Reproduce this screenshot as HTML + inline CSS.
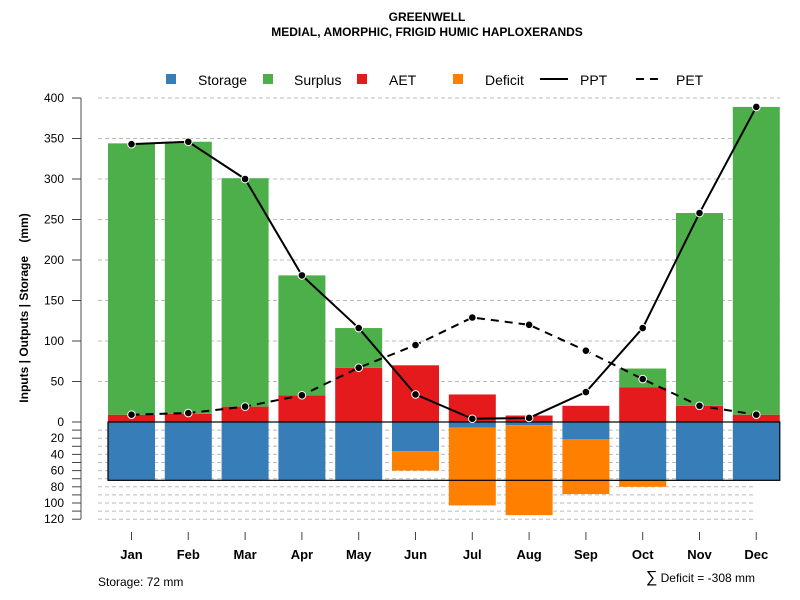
<!DOCTYPE html>
<html><head><meta charset="utf-8"><style>
body{margin:0;background:#fff;}
svg{display:block;font-family:"Liberation Sans",sans-serif;}
</style></head><body>
<svg id="chart" width="800" height="600">
<text x="427" y="21" text-anchor="middle" font-size="12" font-weight="bold">GREENWELL</text>
<text x="427" y="36" text-anchor="middle" font-size="12" font-weight="bold">MEDIAL, AMORPHIC, FRIGID HUMIC HAPLOXERANDS</text>
<g id="legend">
 <rect x="166" y="74" width="10" height="10" fill="#377eb8"/>
 <text x="198" y="85" font-size="14">Storage</text>
 <rect x="263" y="74" width="10" height="10" fill="#4daf4a"/>
 <text x="294" y="85" font-size="14">Surplus</text>
 <rect x="357" y="74" width="10" height="10" fill="#e41a1c"/>
 <text x="389" y="85" font-size="14">AET</text>
 <rect x="453" y="74" width="10" height="10" fill="#ff7f00"/>
 <text x="485" y="85" font-size="14">Deficit</text>
 <line x1="540" y1="79" x2="568" y2="79" stroke="#000" stroke-width="2"/>
 <text x="580" y="85" font-size="14">PPT</text>
 <line x1="636" y1="79" x2="664" y2="79" stroke="#000" stroke-width="2" stroke-dasharray="8,6"/>
 <text x="676" y="85" font-size="14">PET</text>
</g>
<text transform="translate(28,308) rotate(-90)" text-anchor="middle" font-size="12" font-weight="bold" style="white-space:pre">Inputs | Outputs | Storage    (mm)</text>
<text x="98" y="586" font-size="12">Storage: 72 mm</text>
<text x="755" y="582" text-anchor="end" font-size="12"><tspan font-size="16">∑</tspan> Deficit = -308 mm</text>
<g id="grid"></g><g id="bars"></g><g id="lines"></g><g id="axes"></g>
</svg>
<script>
const months=["Jan","Feb","Mar","Apr","May","Jun","Jul","Aug","Sep","Oct","Nov","Dec"];
const ppt=[343,346,300,181,116,34,4,5,37,116,258,389];
const pet=[9,11,19,33,67,95,129,120,88,53,20,9];
const aet=[9,10,19,33,67,70,34,8,20,43,20,9];
const surplus=[335,336,282,148,49,0,0,0,0,23,238,380];
const storage=[72,72,72,72,72,36,7,4,21,72,72,72];
const deficit=[0,0,0,0,0,24,96,111,68,8,0,0];
const upperTicks=[0,50,100,150,200,250,300,350,400];
const lowerTicks=[20,40,60,80,100,120];
const capacity=72;
const NS="http://www.w3.org/2000/svg";
const x0=131.5,dx=56.8,bw=47;
const xs=i=>x0+i*dx;
const yUp=v=>422-v*0.81;
const yDn=v=>422+v*0.81;
function mk(tag,attrs,parent){const e=document.createElementNS(NS,tag);for(const k in attrs)e.setAttribute(k,attrs[k]);document.getElementById(parent).appendChild(e);return e;}
upperTicks.forEach(t=>{if(t===0)return;const l=mk('line',{x1:98,x2:780,y1:yUp(t),y2:yUp(t),stroke:'#bbb','stroke-dasharray':'4,3'},'grid');

});
for(let v=10;v<=120;v+=10){const l=mk('line',{x1:98,x2:755,y1:yDn(v),y2:yDn(v),stroke:'#bbb','stroke-dasharray':'4,3'},'grid');

}
months.forEach((m,i)=>{
 const x=xs(i)-bw/2;
 let r=mk('rect',{x:x,width:bw,y:yUp(aet[i]),height:aet[i]*0.81,fill:'#e41a1c'},'bars');
 
 
 r=mk('rect',{x:x,width:bw,y:yUp(aet[i]+surplus[i]),height:surplus[i]*0.81,fill:'#4daf4a'},'bars');
 
 
 r=mk('rect',{x:x,width:bw,y:422,height:storage[i]*0.81,fill:'#377eb8'},'bars');
 
 
 r=mk('rect',{x:x,width:bw,y:yDn(storage[i]),height:deficit[i]*0.81,fill:'#ff7f00'},'bars');
 
 
});
const box=mk('rect',{x:xs(0)-bw/2,y:422,width:xs(11)-xs(0)+bw,height:capacity*0.81,fill:'none',stroke:'#000','stroke-width':1.2},'bars');


function series(vals,dash,name){
 const p=mk('polyline',{points:vals.map((v,i)=>xs(i)+','+yUp(v)).join(' '),fill:'none',stroke:'#000','stroke-width':2,'stroke-dasharray':dash},'lines');
 
 
 vals.forEach((v,i)=>{const c=mk('circle',{cx:xs(i),cy:yUp(v),r:3.8,fill:'#000',stroke:'#fff','stroke-width':1},'lines');
 
 });
}
series(pet,'8,6','pet');
series(ppt,'none','ppt');
const ax=mk('line',{x1:81,x2:81,y1:98,y2:519,stroke:'#888','stroke-width':1.5},'axes');


upperTicks.forEach(t=>{mk('line',{x1:72,x2:81,y1:yUp(t),y2:yUp(t),stroke:'#444'},'axes');
 const tx=mk('text',{x:64,y:yUp(t)+4,'text-anchor':'end','font-size':12},'axes');tx.textContent=t;
 
 });
for(let v=10;v<=120;v+=10)mk('line',{x1:72,x2:81,y1:yDn(v),y2:yDn(v),stroke:'#444'},'axes');
lowerTicks.forEach(t=>{const tx=mk('text',{x:64,y:yDn(t)+4,'text-anchor':'end','font-size':12},'axes');tx.textContent=t;
 
 });
months.forEach((m,i)=>{mk('line',{x1:xs(i),x2:xs(i),y1:532,y2:540,stroke:'#444'},'axes');
 const tx=mk('text',{x:xs(i),y:559,'text-anchor':'middle','font-size':13,'font-weight':'bold'},'axes');tx.textContent=m;
 
 });
</script>
</body></html>
